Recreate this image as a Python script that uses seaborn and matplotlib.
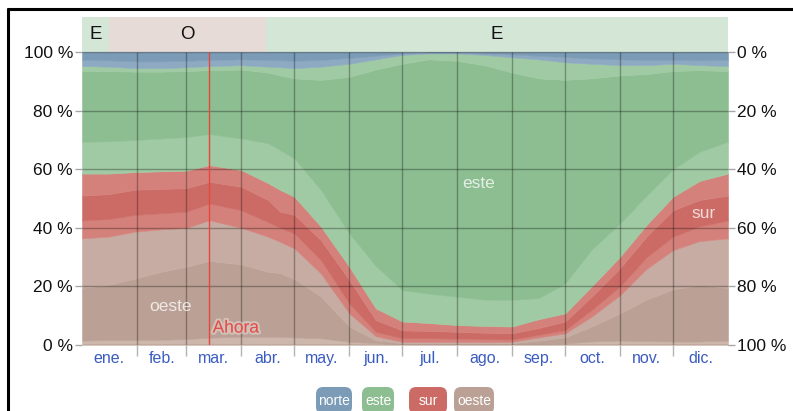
import numpy as np
import matplotlib
matplotlib.use("Agg")
import matplotlib.pyplot as plt
import matplotlib.patheffects as pe
from matplotlib.lines import Line2D
from matplotlib.patches import FancyBboxPatch
import seaborn as sns

sns.set_theme(style="white")
plt.rcParams["font.family"] = ["Liberation Sans", "DejaVu Sans"]

# Day of year for each sample
days = [0, 15, 30, 45, 59, 72, 90, 105, 112, 120, 135, 151, 166, 181, 196,
        212, 227, 243, 258, 273, 288, 304, 319, 334, 349, 365]

# Percentage of hours per wind direction (bottom to top of the stack)
oeste_no = [1.5, 1.7, 1.7, 1.8, 2.0, 2.5, 2.8, 2.8, 2.8, 2.6, 2.3, 1.1, 0.6, 0.3, 0.3,
            0.3, 0.3, 0.3, 0.3, 0.5, 1.2, 1.5, 1.3, 1.2, 1.2, 1.5]
oeste = [18.0, 18.8, 21.0, 23.2, 24.7, 26.2, 24.7, 22.2, 21.7, 19.9, 14.2, 5.2, 1.0, 0.3, 0.3,
         0.2, 0.2, 0.3, 1.2, 2.1, 5.1, 9.3, 14.2, 17.8, 19.3, 18.0]
oeste_so = [16.9, 16.5, 16.0, 14.5, 13.3, 13.9, 12.5, 12.0, 10.7, 10.5, 7.9, 4.5, 1.4, 0.5, 0.5,
            0.6, 0.5, 0.5, 1.1, 1.4, 3.4, 6.2, 10.5, 13.4, 15.0, 16.9]
sur_so = [6.1, 6.0, 5.7, 5.5, 5.5, 5.7, 6.0, 5.0, 4.8, 5.1, 4.6, 3.4, 1.5, 1.2, 1.2,
          1.1, 1.0, 0.8, 0.9, 1.1, 2.3, 3.0, 4.0, 4.6, 5.0, 6.1]
sur = [8.5, 8.5, 8.6, 8.3, 8.0, 7.4, 8.0, 7.5, 5.5, 6.3, 6.8, 8.0, 4.0, 2.7, 2.5,
       2.3, 2.2, 2.1, 2.3, 2.9, 4.5, 6.2, 7.0, 9.0, 9.0, 8.5]
sur_se = [7.5, 7.0, 6.0, 6.0, 6.0, 5.7, 5.7, 5.8, 7.4, 6.2, 4.6, 4.5, 4.0, 3.0, 2.7,
          2.3, 2.3, 2.3, 3.0, 2.8, 3.5, 3.9, 4.0, 4.6, 6.5, 7.5]
este_se = [10.9, 11.0, 11.0, 11.2, 11.5, 10.6, 10.8, 13.6, 13.6, 13.1, 12.5, 11.4, 14.5, 10.7, 10.0,
           9.7, 9.0, 9.1, 7.2, 10.2, 12.6, 11.4, 10.0, 9.4, 10.0, 10.9]
este = [24.1, 24.0, 23.3, 22.8, 22.5, 21.8, 23.5, 24.1, 25.5, 27.3, 37.6, 53.4, 67.0, 77.3, 80.0,
        80.5, 80.0, 77.6, 75.0, 69.5, 58.4, 50.5, 41.5, 33.5, 27.8, 24.1]
este_ne = [1.7, 1.5, 1.2, 1.2, 1.3, 1.4, 1.5, 2.0, 2.8, 3.5, 4.5, 4.5, 3.5, 3.0, 2.0,
           2.5, 3.5, 5.2, 6.5, 6.0, 5.0, 3.5, 3.0, 2.5, 1.7, 1.7]
norte_ne = [2.1, 2.2, 2.3, 2.3, 2.2, 2.1, 2.0, 2.3, 2.4, 2.5, 2.3, 2.0, 1.2, 0.5, 0.3,
            0.3, 0.5, 1.0, 1.2, 1.8, 1.8, 2.0, 1.8, 1.3, 1.7, 2.1]
norte = [2.7, 2.8, 3.2, 3.2, 3.0, 2.7, 2.5, 2.7, 2.8, 3.0, 2.7, 2.0, 1.3, 0.5, 0.2,
         0.2, 0.5, 0.8, 1.3, 1.7, 2.2, 2.5, 2.7, 2.7, 2.8, 2.7]

layers = [oeste_no, oeste, oeste_so, sur_so, sur, sur_se,
          este_se, este, este_ne, norte_ne, norte]
layer_colors = ["#cdb6ac", "#bba195", "#c6aca2", "#d5817b", "#cc6b65", "#d5817b",
                "#a0caa3", "#8dbe91", "#a0caa3", "#8eaac2", "#7b9bb6"]

# Dominant direction bar above the plot
band_edges = [0, 15.3, 104, 365]
band_labels = ["E", "O", "E"]
band_colors = ["#d4e7d6", "#e7dbd8", "#d4e7d6"]

month_bounds = [31, 59, 90, 120, 151, 181, 212, 243, 273, 304, 334]
month_mids = [15.5, 45, 74.5, 105, 135.5, 166, 196.5, 227.5, 258, 288.5, 319, 349.5]
month_labels = ["ene.", "feb.", "mar.", "abr.", "may.", "jun.",
                "jul.", "ago.", "sep.", "oct.", "nov.", "dic."]
now_day = 72

W, H = 793, 411
fig = plt.figure(figsize=(W / 100, H / 100), dpi=100)
x0, x1, y0, y1 = 82, 728, 345, 17
ax = fig.add_axes([x0 / W, 1 - y0 / H, (x1 - x0) / W, (y0 - y1) / H])
top = 100 * (y0 - y1) / (y0 - 52)

polys = ax.stackplot(days, *layers, colors=layer_colors)
for p, c in zip(polys, layer_colors):
    p.set_edgecolor(c)
    p.set_linewidth(0.4)

for (a, b), lab, col in zip(zip(band_edges[:-1], band_edges[1:]), band_labels, band_colors):
    ax.fill_between([a, b], 100, top, color=col, lw=0)
    ax.text((a + b) / 2, (100 + top) / 2, lab, ha="center", va="center",
            fontsize=13.5, color="#111111")

grid_kw = dict(color="black", alpha=0.3, lw=1)
ax.hlines(range(0, 101, 20), 0, 365, **grid_kw)
ax.vlines(month_bounds, 0, 100, **grid_kw)
ax.vlines(now_day, 0, 100, color="#e8453f", lw=1)

ax.set_xlim(0, 365)
ax.set_ylim(0, top)
for s in ax.spines.values():
    s.set_visible(False)

ax.set_xticks(month_bounds)
ax.set_xticklabels([])
ax.set_xticks(month_mids, minor=True)
ax.set_xticklabels(month_labels, minor=True)
ax.tick_params(axis="x", which="major", length=8, width=1, color=(0, 0, 0, 0.3),
               direction="out", bottom=True)
ax.tick_params(axis="x", which="minor", length=0, pad=4, labelsize=11.5,
               labelcolor="#3a5cc0", bottom=True)

yt = list(range(0, 101, 20))
ax.set_yticks(yt)
ax.set_yticklabels([f"{v} %" for v in yt])
ax.tick_params(axis="y", length=5, width=1, color=(0, 0, 0, 0.35), direction="out",
               labelsize=12.5, pad=1.5, left=True, labelcolor="#111111")
ax2 = ax.twinx()
ax2.set_ylim(0, top)
ax2.set_yticks(yt)
ax2.set_yticklabels([f"{100 - v} %" for v in yt])
ax2.tick_params(axis="y", length=5, width=1, color=(0, 0, 0, 0.35), direction="out",
                labelsize=12.5, pad=1.5, right=True, labelcolor="#111111")
for s in ax2.spines.values():
    s.set_visible(False)
ax.grid(False)
ax2.grid(False)

lab_kw = dict(ha="center", va="center", fontsize=12.5, color=(1, 1, 1, 0.75))
ax.text(224, 55, "este", **lab_kw)
ax.text(50, 13, "oeste", **lab_kw)
ax.text(351, 45, "sur", **lab_kw)
ax.text(now_day + 1.8, 5.8, "Ahora", ha="left", va="center", fontsize=12.5,
        color="#e0504a",
        path_effects=[pe.withStroke(linewidth=3, foreground=(1, 1, 1, 0.35))])

# Legend chips: (label, colour, left px, right px)
chips = [("norte", "#7b9bb6", 316, 352), ("este", "#8dbe91", 362, 394),
         ("sur", "#cc6b65", 409, 447), ("oeste", "#bba195", 454, 494)]
for name, col, lx, rx in chips:
    fig.add_artist(FancyBboxPatch(
        (lx / W, 1 - 414 / H), (rx - lx) / W, 27 / H,
        boxstyle="round,pad=0,rounding_size=0.009", fc=col, ec="none",
        transform=fig.transFigure, mutation_aspect=W / H))
    fig.text((lx + rx) / 2 / W, 1 - 401 / H, name, ha="center", va="center",
             fontsize=10, color="white")

# Outer frame
fig.add_artist(Line2D([8 / W, 1], [1 - 9 / H, 1 - 9 / H], color="black", lw=2.2,
                      transform=fig.transFigure))
fig.add_artist(Line2D([8 / W, 8 / W], [0, 1 - 9 / H], color="black", lw=2.2,
                      transform=fig.transFigure))

fig.savefig("out.png", dpi=100, facecolor="white")
